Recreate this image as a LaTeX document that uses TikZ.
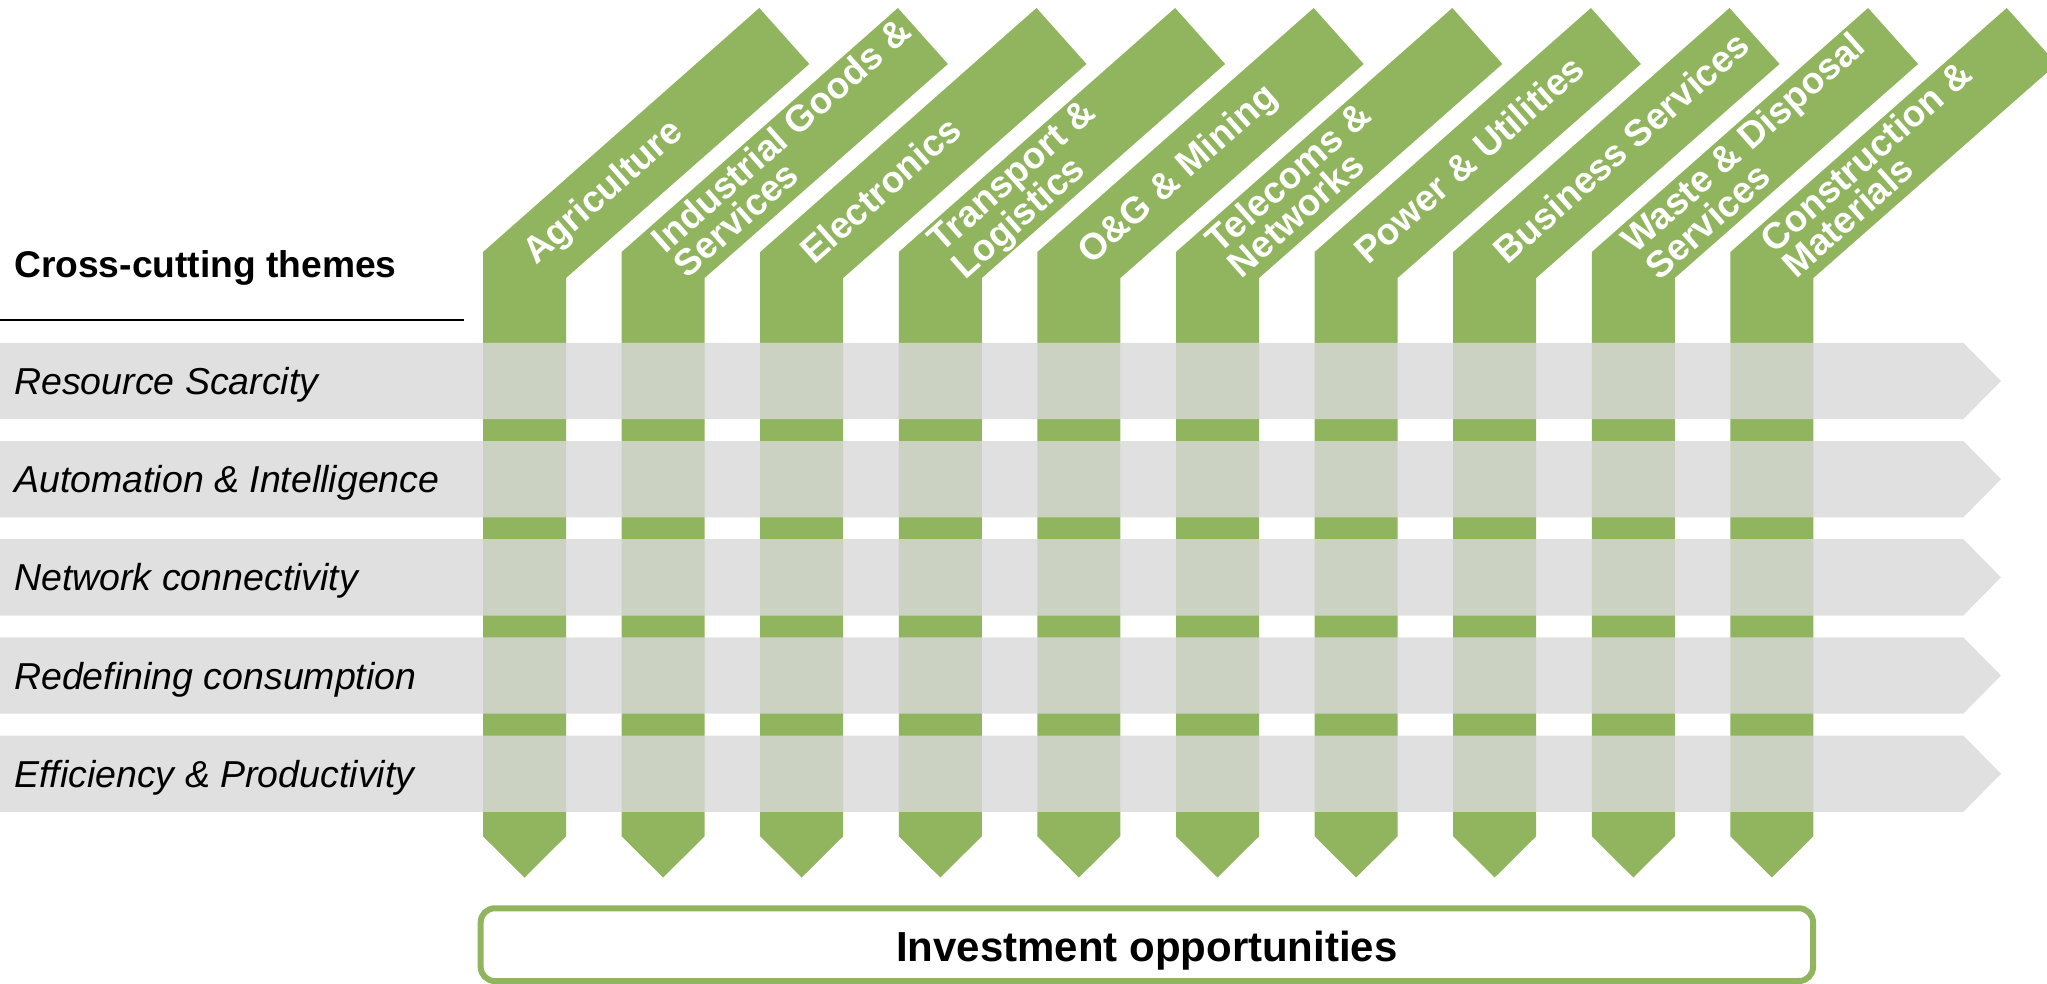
\documentclass[tikz,border=0pt]{standalone}
\usepackage{fontspec}
\setmainfont{Liberation Sans}
\usetikzlibrary{calc}
\definecolor{grn}{HTML}{91B55F}
\definecolor{bandgray}{HTML}{D9D9D9}
\begin{document}
\begin{tikzpicture}[x=1pt,y=-1pt,
  sectorcol/.style={fill=grn,draw=none},
  sectorlabel/.style={anchor=north west,inner sep=0pt,align=left,text=white,rotate=41.5,
    font=\fontsize{37}{33}\selectfont\bfseries},
  themeband/.style={fill=bandgray,fill opacity=0.82,draw=none},
  themelabel/.style={anchor=base west,inner sep=0pt,font=\fontsize{37.5}{40}\selectfont\itshape},
  heading/.style={anchor=base west,inner sep=0pt,font=\fontsize{37.2}{40}\selectfont\bfseries},
  invbox/.style={draw=grn,line width=6pt,rounded corners=14pt,inner sep=0pt},
  invlabel/.style={anchor=base,inner sep=0pt,font=\fontsize{42}{45}\selectfont\bfseries}]
\useasboundingbox (0,0) rectangle (2047,984);
\begin{scope}
\clip (0,0) rectangle (2047,984);
% sector columns
\foreach \k/\lab/\t in {0/{Agriculture}/19,
    1/{Industrial Goods \&\\Services}/4,
    2/{Electronics}/19,
    3/{Transport \&\\Logistics}/4,
    4/{O\&G \& Mining}/19,
    5/{Telecoms \&\\Networks}/4,
    6/{Power \& Utilities}/19,
    7/{Business Services}/19,
    8/{Waste \& Disposal\\Services}/4,
    9/{Construction \&\\Materials}/4}{
  \pgfmathsetmacro\dx{138.6*\k}
  \fill[sectorcol] (483+\dx,836.3) -- (524.5+\dx,877.5) -- (566+\dx,836.3)
     -- (566+\dx,278) -- (809.3+\dx,64) -- (759.3+\dx,8) -- (483+\dx,252) -- cycle;
  \node[sectorlabel] (sec\k) at ($(483+\dx,252)+31*(0.749,-0.662)+\t*(0.662,0.749)$) {\lab};
}
% theme bands
\foreach \i/\lab in {0/{Resource Scarcity},
    1/{Automation \& Intelligence},
    2/{Network connectivity},
    3/{Redefining consumption},
    4/{Efficiency \& Productivity}}{
  \pgfmathsetmacro\ty{342.8+98.2*\i}
  \fill[themeband] (0,\ty) -- (1963.3,\ty) -- (2001,\ty+38.15) -- (1963.3,\ty+76.3) -- (0,\ty+76.3) -- cycle;
  \node[themelabel] (th\i) at (14,\ty+38.15+13.5) {\lab};
}
\end{scope}
% heading and rule
\node[heading] (hd) at (14,277) {Cross-cutting themes};
\coordinate (rl) at (0,320);
\coordinate (rr) at (464,320);
\draw[line width=2pt] (rl) -- (rr);
% investment box
\node[invbox,minimum width=1332.3pt,minimum height=72.7pt] (inv) at (1146.85,944.65) {};
\node[invlabel] (invt) at (1146.85,961.7) {Investment opportunities};
\end{tikzpicture}
\end{document}
